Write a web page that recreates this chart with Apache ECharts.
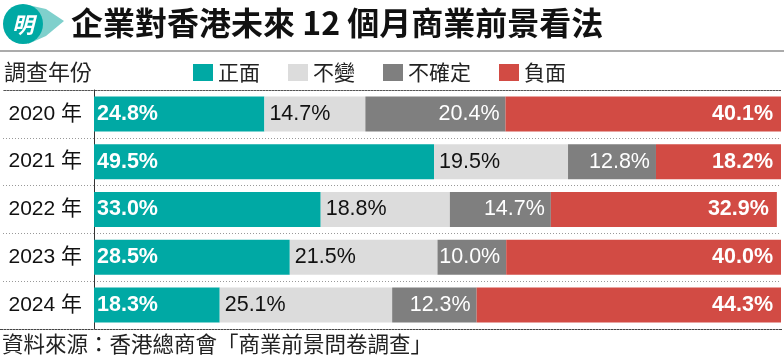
<!DOCTYPE html>
<html><head><meta charset="utf-8">
<script src="https://cdn.jsdelivr.net/npm/echarts@6/dist/echarts.min.js"></script>
<style>html,body{margin:0;padding:0;background:#fff}#c{width:784px;height:358px}</style>
</head><body><div id="c"></div>
<script>
const years = ['2020 年','2021 年','2022 年','2023 年','2024 年'];
const seriesNames = ['正面','不變','不確定','負面'];
const positive = [24.8, 49.5, 33.0, 28.5, 18.3];
const unchanged = [14.7, 19.5, 18.8, 21.5, 25.1];
const uncertain = [20.4, 12.8, 14.7, 10.0, 12.3];
const negative = [40.1, 18.2, 32.9, 40.0, 44.3];

const FONT = '"Liberation Sans", "Noto Sans CJK TC", sans-serif';
const CJK = '"Noto Sans CJK TC", "Liberation Sans", sans-serif';
const colors = ['#00A9A4','#DCDCDC','#7F7F7F','#D24B44'];
const fmt = p => p.value.toFixed(1) + '%';

const chart = echarts.init(document.getElementById('c'), null, {renderer:'canvas'});
const GT = 90, GH = 239;
function mk(name, data, color, pos, dist, tcolor, weight){
  return {name, type:'bar', stack:'all', data, barWidth:35, xAxisIndex:0, yAxisIndex:0,
    itemStyle:{color}, emphasis:{disabled:true},
    label:{show:true, position:pos, distance:dist, formatter:fmt, color:tcolor,
      fontFamily:FONT, fontSize:21.5, fontWeight:weight}};
}
chart.setOption({
  animation:false,
  textStyle:{fontFamily:FONT},
  legend:{left:193, top:62, padding:0, icon:'rect', itemWidth:20, itemHeight:17, itemGap:28,
    selectedMode:false, data:seriesNames,
    textStyle:{fontFamily:CJK, fontSize:21, color:'#222'}},
  grid:[{left:94, right:3, top:GT, height:GH},{left:3, width:91, top:GT, height:GH}],
  xAxis:[
    {gridIndex:0, type:'value', min:0, max:100, show:false},
    {gridIndex:1, type:'value', min:0, max:1, show:false}
  ],
  yAxis:[
    {gridIndex:0, type:'category', data:years, inverse:true,
      axisLine:{show:true, lineStyle:{color:'#333', width:1}}, axisTick:{show:false},
      axisLabel:{margin:12, fontFamily:FONT, fontSize:21, color:'#111'},
      splitLine:{show:true, lineStyle:{color:'#999', type:[1,2], width:1}}},
    {gridIndex:1, type:'category', data:years, inverse:true,
      axisLine:{show:false}, axisTick:{show:false}, axisLabel:{show:false},
      splitLine:{show:true, lineStyle:{color:'#999', type:[1,2], width:1}}}
  ],
  series:[
    mk(seriesNames[0], positive, colors[0], 'insideLeft', 3, '#fff', 'bold'),
    mk(seriesNames[1], unchanged, colors[1], 'insideLeft', 5, '#111', 'normal'),
    mk(seriesNames[2], uncertain, colors[2], 'insideRight', 6, '#fff', 'normal'),
    mk(seriesNames[3], negative, colors[3], 'insideRight', 8, '#fff', 'bold')
  ],
  graphic:[
    {type:'polygon', shape:{points:[[28,5],[46,9],[64,21],[46,36],[28,44]]}, style:{fill:'#7FD0CC'}},
    {type:'circle', shape:{cx:23, cy:24, r:20}, style:{fill:'#00A9A4'}},
    {type:'text', x:23, y:25, style:{text:'明', fill:'#fff', font:'italic bold 22px '+CJK, align:'center', verticalAlign:'middle'}},
    {type:'text', x:71, y:23, style:{text:'企業對香港未來 12 個月商業前景看法', fill:'#111', font:'bold 32px '+CJK, verticalAlign:'middle'}},
    {type:'rect', shape:{x:0, y:50, width:784, height:2}, style:{fill:'#ABABAB'}},
    {type:'text', x:4, y:72, style:{text:'調查年份', fill:'#222', font:'22px '+CJK, verticalAlign:'middle'}},
    {type:'line', shape:{x1:3, y1:90.5, x2:781, y2:90.5}, style:{stroke:'#555', lineWidth:1}},
    {type:'line', shape:{x1:0, y1:329.5, x2:782, y2:329.5}, style:{stroke:'#444', lineWidth:1.2}},
    {type:'text', x:2, y:344, style:{text:'資料來源：香港總商會「商業前景問卷調查」', fill:'#222', font:'21.5px '+CJK, verticalAlign:'middle'}}
  ]
});
</script></body></html>
